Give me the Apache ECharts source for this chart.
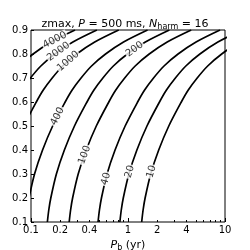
<!DOCTYPE html>
<html>
<head>
<meta charset="utf-8">
<script src="https://cdn.jsdelivr.net/npm/echarts@6/dist/echarts.min.js"></script>
<style>
html,body{margin:0;padding:0;background:#fff;}
#c{width:250px;height:250px;}
</style>
</head>
<body>
<div id="c"></div>
<script>
// eccentricity samples along each contour
const eVals = [0.1, 0.15, 0.2, 0.3, 0.4, 0.5, 0.6, 0.65, 0.7, 0.75, 0.8, 0.85, 0.9];
// orbital period (yr) of each contour at those eccentricities
const pb10   = [1.384, 1.431, 1.501, 1.714, 2.073, 2.634, 3.544, 4.184, 5.170, 6.630, 9.25, 14.18, 25.06];
const pb20   = [0.8245, 0.8525, 0.8941, 1.021, 1.235, 1.569, 2.111, 2.492, 3.080, 3.949, 5.510, 8.447, 14.93];
const pb40   = [0.4910, 0.5077, 0.5326, 0.6081, 0.7355, 0.9345, 1.257, 1.484, 1.834, 2.352, 3.282, 5.031, 8.891];
const pb100  = [0.2476, 0.2560, 0.2685, 0.3066, 0.3709, 0.4712, 0.6340, 0.7485, 0.9249, 1.186, 1.655, 2.537, 4.483];
const pb200  = [0.1475, 0.1525, 0.1600, 0.1827, 0.2209, 0.2807, 0.3777, 0.4459, 0.5510, 0.7066, 0.9858, 1.511, 2.671];
const pb400  = [0.08786, 0.09084, 0.09528, 0.1088, 0.1316, 0.1672, 0.2250, 0.2656, 0.3282, 0.4209, 0.5872, 0.9001, 1.591];
const pb1000 = [0.04430, 0.04581, 0.04805, 0.05487, 0.06636, 0.08431, 0.1134, 0.1339, 0.1655, 0.2122, 0.2961, 0.4539, 0.8022];
const pb2000 = [0.02639, 0.02729, 0.02862, 0.03269, 0.03953, 0.05023, 0.06758, 0.07979, 0.09859, 0.1264, 0.1764, 0.2704, 0.4779];
const pb4000 = [0.01572, 0.01625, 0.01705, 0.01947, 0.02354, 0.02991, 0.04025, 0.04752, 0.05872, 0.07530, 0.1051, 0.1610, 0.2846];
const contourPb = [pb10, pb20, pb40, pb100, pb200, pb400, pb1000, pb2000, pb4000];

// contour labels
const labelNames = ['4000', '2000', '1000', '400', '200', '100', '40', '20', '10'];
const labelPb    = [0.176, 0.192, 0.242, 0.188, 1.169, 0.357, 0.592, 1.041, 1.747];
const labelE     = [0.858, 0.81, 0.77, 0.54, 0.82, 0.38, 0.28, 0.31, 0.31];
const labelAngle = [28, 36, 41, 63, 36, 70, 74, 74, 74];

// axis ticks
const xLabelTicks = [0.1, 0.2, 0.4, 1, 2, 4, 10];
const xMajorTicks = [0.1, 1, 10];
const xMinorTicks = [0.2, 0.3, 0.4, 0.5, 0.6, 0.7, 0.8, 0.9, 2, 3, 4, 5, 6, 7, 8, 9];

const FONT = 'DejaVu Sans';
const chart = echarts.init(document.getElementById('c'), null, {renderer: 'canvas'});

const lg = v => Math.log10(v);
const fmtPb = v => { const p = Math.pow(10, v); return p < 1 ? p.toFixed(1) : String(Math.round(p)); };

const series = contourPb.map(arr => ({
  type: 'line',
  xAxisIndex: 0, yAxisIndex: 0,
  data: eVals.map((e, j) => [arr[j], e]),
  symbol: 'none', showSymbol: false,
  smooth: 0.3, clip: true, silent: true,
  lineStyle: {color: '#000', width: 1.7},
  z: 2
}));
series.push({
  type: 'scatter', xAxisIndex: 0, yAxisIndex: 0,
  symbolSize: 0, silent: true, z: 5,
  data: labelNames.map((n, i) => ({name: n, value: [labelPb[i], labelE[i]], label: {rotate: labelAngle[i]}})),
  label: {show: true, position: 'inside', formatter: '{b}', color: '#000', fontSize: 10,
          fontFamily: FONT, backgroundColor: '#fff', padding: [0, 1], lineHeight: 10}
});

chart.setOption({
  animation: false,
  backgroundColor: '#fff',
  title: {
    text: '{n|zmax, }{i|P}{n| = 500 ms, }{i|N}{s|harm}{n| = 16}',
    left: 'center', top: 13,
    textStyle: {
      fontWeight: 'normal',
      rich: {
        n: {fontFamily: FONT, fontSize: 11, fontWeight: 'normal', color: '#000', lineHeight: 13},
        i: {fontFamily: FONT, fontSize: 11, fontWeight: 'normal', fontStyle: 'italic', color: '#000', lineHeight: 13},
        s: {fontFamily: FONT, fontSize: 8, fontWeight: 'normal', color: '#000', verticalAlign: 'bottom', lineHeight: 13}
      }
    }
  },
  grid: {left: 31, right: 25, top: 30, bottom: 28, containLabel: false, outerBoundsMode: 'none',
         show: true, borderColor: '#000', borderWidth: 1, backgroundColor: 'transparent'},
  xAxis: [
    {type: 'log', logBase: 10, min: 0.1, max: 10, show: false, gridIndex: 0},
    {type: 'value', min: -1, max: 1, position: 'bottom', gridIndex: 0,
     axisLine: {show: false, onZero: false}, splitLine: {show: false},
     axisTick: {show: true, inside: true, length: 4, customValues: xMajorTicks.map(lg), lineStyle: {color: '#000'}},
     axisLabel: {show: true, margin: 3, customValues: xLabelTicks.map(lg), formatter: fmtPb,
                 color: '#000', fontSize: 10, fontFamily: FONT},
     name: '{i|P}{s|b}{n| (yr)}', nameLocation: 'middle', nameGap: 14,
     nameTextStyle: {rich: {
        n: {fontFamily: FONT, fontSize: 11, color: '#000', lineHeight: 14},
        i: {fontFamily: FONT, fontSize: 11, fontStyle: 'italic', color: '#000', lineHeight: 14},
        s: {fontFamily: FONT, fontSize: 8, color: '#000', verticalAlign: 'bottom', lineHeight: 14}
     }}},
    {type: 'value', min: -1, max: 1, position: 'bottom', gridIndex: 0,
     axisLine: {show: false, onZero: false}, splitLine: {show: false}, axisLabel: {show: false},
     axisTick: {show: true, inside: true, length: 2, customValues: xMinorTicks.map(lg), lineStyle: {color: '#000'}}}
  ],
  yAxis: [{
    type: 'value', min: 0.1, max: 0.9, interval: 0.1, position: 'left',
    axisLine: {show: false, onZero: false}, splitLine: {show: false},
    axisTick: {show: true, inside: true, length: 3, lineStyle: {color: '#000'}},
    axisLabel: {margin: 3, color: '#000', fontSize: 10, fontFamily: FONT, formatter: v => v.toFixed(1)},
    name: 'e', nameLocation: 'middle', nameGap: 24, nameRotate: 90,
    nameTextStyle: {fontFamily: FONT, fontSize: 12, fontStyle: 'italic', color: '#000'}
  }],
  series: series
});
</script>
</body>
</html>
